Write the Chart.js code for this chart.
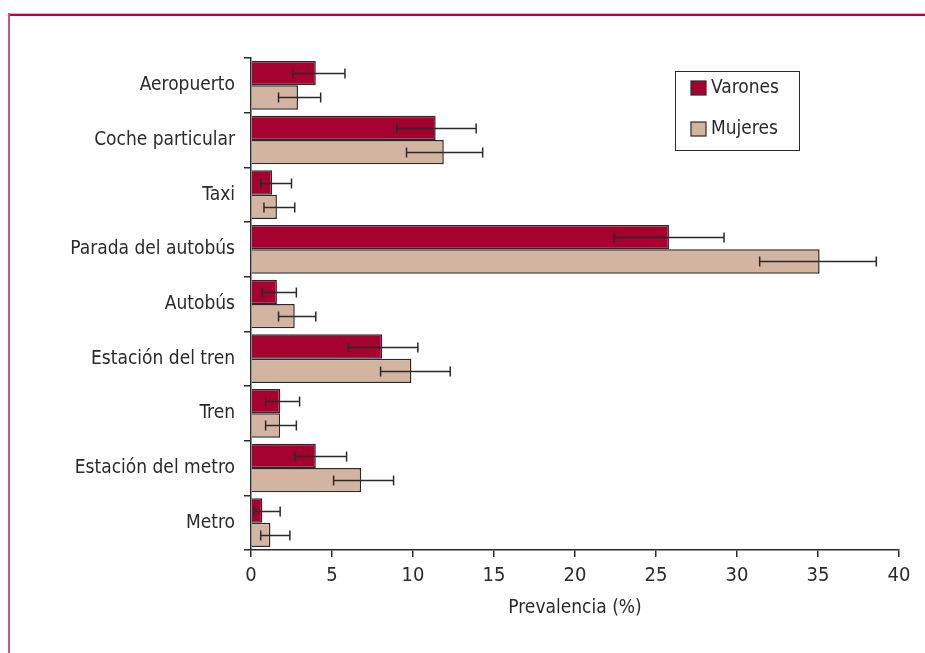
<!DOCTYPE html>
<html>
<head>
<meta charset="utf-8">
<script src="https://cdn.jsdelivr.net/npm/chart.js@4.4.1/dist/chart.umd.min.js"></script>
<style>
  body { margin: 0; background: #fff; }
  canvas { display: block; }
</style>
</head>
<body>
<canvas id="chart" width="925" height="653"></canvas>
<script>
const categories = ['Aeropuerto', 'Coche particular', 'Taxi', 'Parada del autobús', 'Autobús',
  'Estación del tren', 'Tren', 'Estación del metro', 'Metro'];

const varones     = [4.0, 11.4, 1.3, 25.8, 1.6, 8.1, 1.8, 4.0, 0.7];
const varonesLow  = [2.6,  9.0, 0.6, 22.4, 0.7, 6.0, 0.9, 2.7, 0.2];
const varonesHigh = [5.8, 13.9, 2.5, 29.2, 2.8, 10.3, 3.0, 5.9, 1.8];

const mujeres     = [2.9, 11.9, 1.6, 35.1, 2.7, 9.9, 1.8, 6.8, 1.2];
const mujeresLow  = [1.7,  9.6, 0.8, 31.4, 1.7, 8.0, 0.9, 5.1, 0.6];
const mujeresHigh = [4.3, 14.3, 2.7, 38.6, 4.0, 12.3, 2.8, 8.8, 2.4];

const xMin = 0, xMax = 40, xStep = 5;

const FONT = "'Liberation Sans Narrow', 'DejaVu Sans Condensed', 'Liberation Sans', sans-serif";
const INK = '#2a2a2a';

// marco rojo de la figura
const framePlugin = {
  id: 'frame',
  beforeDraw(chart) {
    const c = chart.ctx;
    c.save();
    c.fillStyle = '#fff';
    c.fillRect(0, 0, chart.width, chart.height);
    c.fillStyle = '#eab0c2';
    c.fillRect(9, 13, chart.width, 1);
    c.fillStyle = '#bb003a';
    c.fillRect(9, 14, chart.width, 2);
    c.fillStyle = '#d4507e';
    c.fillRect(8, 13, 2, chart.height);
    c.restore();
  }
};

// barras de error
const errorBars = {
  id: 'errorBars',
  afterDatasetsDraw(chart) {
    const c = chart.ctx;
    const x = chart.scales.x;
    c.save();
    c.strokeStyle = INK;
    c.lineWidth = 1.5;
    chart.data.datasets.forEach((ds, i) => {
      const meta = chart.getDatasetMeta(i);
      meta.data.forEach((bar, j) => {
        const x0 = x.getPixelForValue(ds.low[j]);
        const x1 = x.getPixelForValue(ds.high[j]);
        const y = Math.round(bar.y) + 0.5;
        c.beginPath();
        c.moveTo(x0, y); c.lineTo(x1, y);
        c.moveTo(x0, y - 5); c.lineTo(x0, y + 5);
        c.moveTo(x1, y - 5); c.lineTo(x1, y + 5);
        c.stroke();
      });
    });
    c.restore();
  }
};

// leyenda en recuadro
const boxLegend = {
  id: 'boxLegend',
  afterDraw(chart) {
    const c = chart.ctx;
    c.save();
    c.strokeStyle = INK;
    c.lineWidth = 1;
    c.strokeRect(675.5, 71.5, 124, 79);
    c.font = '19px ' + FONT;
    c.textBaseline = 'middle';
    chart.data.datasets.forEach((ds, i) => {
      const y = 81 + i * 41;
      c.fillStyle = ds.backgroundColor;
      c.fillRect(691, y, 15, 14);
      c.lineWidth = 1.2;
      c.strokeRect(691, y, 15, 14);
      c.fillStyle = INK;
      c.fillText(ds.label, 711, y + 7);
    });
    c.restore();
  }
};

new Chart(document.getElementById('chart'), {
  type: 'bar',
  data: {
    labels: categories,
    datasets: [
      { label: 'Varones', data: varones, low: varonesLow, high: varonesHigh,
        backgroundColor: '#a6002f', borderColor: INK, borderWidth: 1.5 },
      { label: 'Mujeres', data: mujeres, low: mujeresLow, high: mujeresHigh,
        backgroundColor: '#d3b4a0', borderColor: INK, borderWidth: 1.5 }
    ]
  },
  options: {
    indexAxis: 'y',
    responsive: false,
    animation: false,
    layout: { padding: { top: 58, right: 26, left: 0, bottom: 0 } },
    datasets: { bar: { categoryPercentage: 0.89, barPercentage: 1 } },
    plugins: { legend: { display: false }, tooltip: { enabled: false } },
    scales: {
      x: {
        type: 'linear', min: xMin, max: xMax,
        ticks: { stepSize: xStep, color: INK, padding: 7, font: { family: FONT, size: 20 } },
        grid: { drawOnChartArea: false, tickLength: 7, color: INK, lineWidth: 1.5 },
        border: { color: INK, width: 1.5 },
        title: { display: true, text: 'Prevalencia (%)', color: INK,
          font: { family: FONT, size: 19 }, padding: { top: 4, bottom: 34 } },
        afterFit(s) { s.height = 103; }
      },
      y: {
        ticks: { color: INK, padding: 9, font: { family: FONT, size: 19 } },
        grid: { drawOnChartArea: false, tickLength: 7, color: INK, lineWidth: 1.5, offset: true },
        border: { color: INK, width: 1.5 },
        afterFit(s) { s.width = 251; }
      }
    }
  },
  plugins: [framePlugin, errorBars, boxLegend]
});
</script>
</body>
</html>
